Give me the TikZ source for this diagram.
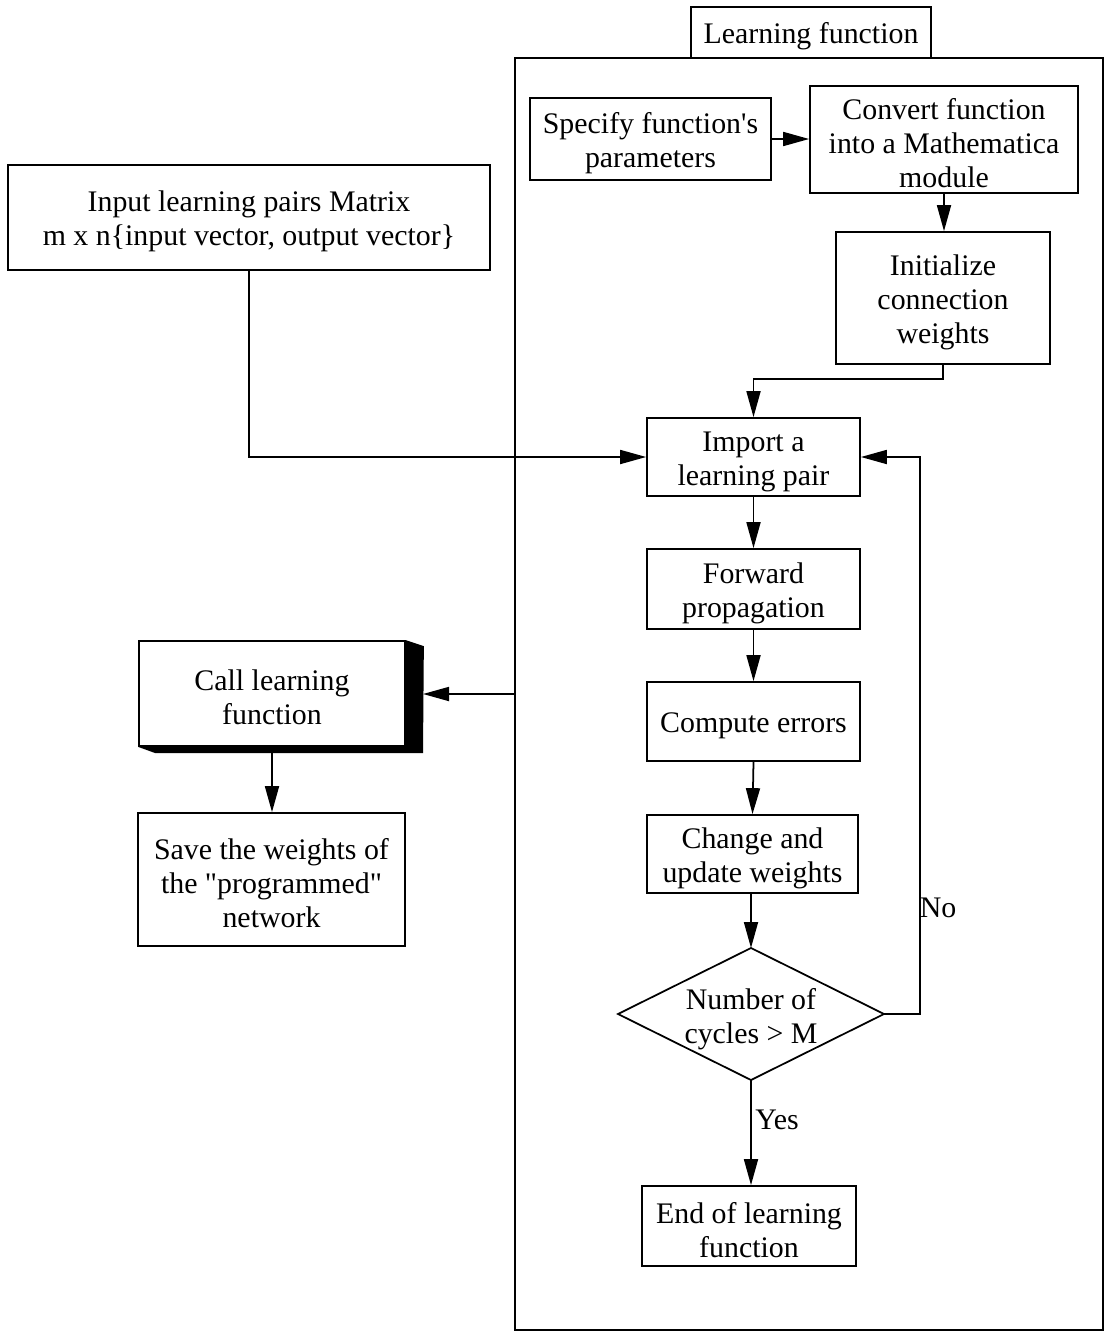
\documentclass[tikz,border=0pt]{standalone}
\usepackage{fontspec}
% a plain family without TeX ligature mapping keeps straight quotes
\newfontfamily\diagfont{Liberation Serif}
\usetikzlibrary{arrows.meta}
% zero-width strut that lowers the first line of a node's text a little
\newcommand\fl{\rule{0pt}{16.5pt}}
\begin{document}
\begin{tikzpicture}[x=0.02cm, y=-0.02cm,
  every node/.style={font=\diagfont\fontsize{17}{19.4}\selectfont},
  box/.style={draw, line width=1pt, fill=white, align=center, inner sep=0pt},
  arr/.style={line width=1pt, -{Triangle[length=0.52cm, width=0.28cm]}}]
\useasboundingbox (0,0) rectangle (1105,1332);

% enclosing frame of the learning function and its title tab
\node[draw, line width=0.9pt, minimum width=11.76cm, minimum height=25.44cm, inner sep=0pt] (frame) at (809,694) {};
\node[box, minimum width=4.8cm, minimum height=1.02cm] (lab) at (811,32.5) {\fl Learning function};

% boxes
\node[box, minimum width=9.64cm, minimum height=2.1cm] (in) at (249,217.5)
  {\fl Input learning pairs Matrix\\m x n\{input vector, output vector\}};
\node[box, minimum width=4.82cm, minimum height=1.64cm] (spec) at (650.5,139)
  {\fl Specify function's\\parameters};
\node[box, minimum width=5.36cm, minimum height=2.14cm] (conv) at (944,139.5)
  {\fl Convert function\\into a Mathematica\\module};
\node[box, minimum width=4.28cm, minimum height=2.64cm] (init) at (943,298)
  {\fl Initialize\\connection\\weights};
\node[box, minimum width=4.26cm, minimum height=1.56cm] (imp) at (753.5,457)
  {\fl Import a\\learning pair};
\node[box, minimum width=4.26cm, minimum height=1.6cm] (fwd) at (753.5,589)
  {\fl Forward\\propagation};
\node[box, minimum width=4.26cm, minimum height=1.58cm] (err) at (753.5,721.5)
  {\fl Compute errors};
\node[box, minimum width=4.22cm, minimum height=1.56cm] (chg) at (752.5,854)
  {\fl Change and\\update weights};
\node[box, minimum width=4.28cm, minimum height=1.6cm] (end) at (749,1226)
  {\fl End of learning\\function};

% decision diamond
\coordinate (dT) at (751,948);
\coordinate (dB) at (751,1080);
\coordinate (dL) at (618,1014);
\coordinate (dR) at (884,1014);
\draw[line width=1pt, fill=white] (dT) -- (dR) -- (dB) -- (dL) -- cycle;
\node[align=center, inner sep=0pt] (dia) at (751,1015) {\fl Number of\\cycles > M};

% call box with its solid block shadow
\node[box, minimum width=5.32cm, minimum height=2.1cm] (call) at (272,693.5)
  {\fl Call learning\\function};
\fill (call.north east) -- ++(18,6) -- (423,753) -- (155,753) -- (call.south west) -- (call.south east) -- cycle;
\node[box, minimum width=5.34cm, minimum height=2.66cm] (save) at (271.5,879.5)
  {\fl Save the weights of\\the "programmed"\\network};

% connectors
\draw[arr] (spec.east) -- (spec.east -| conv.west);
\draw[arr] (conv.south) -- (conv.south |- init.north);
\draw[arr] (init.south) -- ++(0,14) -| (imp.north);
\draw[arr] (in.south) |- (imp.west);
\draw[arr] (imp.south) -- (fwd.north);
\draw[arr] (fwd.south) -- (err.north);
\draw[arr] (err.south) -- (chg.north);
\draw[arr] (chg.south -| dT) -- (dT);
\coordinate (noc) at (920,1014);
\draw[arr] (dR) -- (noc) |- (imp.east);
\draw[arr] (dB) -- (dB |- end.north);
\coordinate (callr) at (423,694);
\draw[arr] (frame.west |- callr) -- (callr);
\coordinate (callb) at (272,753);
\draw[arr] (callb) -- (callb |- save.north);

% branch labels
\node (no) at (938,908) {No};
\node (yes) at (777,1120) {Yes};
\end{tikzpicture}
\end{document}
